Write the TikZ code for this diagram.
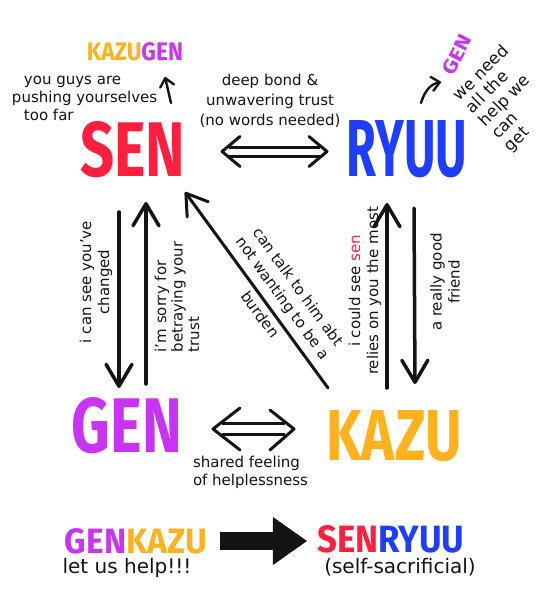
\documentclass[tikz,border=0pt]{standalone}
\usepackage{graphicx}
\usepackage{fontspec}
\setmainfont{DejaVu Sans}
\newfontfamily\namefont{Fira Sans}
\usetikzlibrary{arrows.meta}
\definecolor{cSen}{HTML}{FF1E3E}
\definecolor{cRyuu}{HTML}{1F3DFF}
\definecolor{cGen}{HTML}{C833F5}
\definecolor{cKazu}{HTML}{FFB21E}
\definecolor{ink}{HTML}{141414}
\newcommand\nm[3]{\resizebox{#1}{#2}{\namefont\bfseries #3}}
\begin{document}
\begin{tikzpicture}[x=1pt,y=-1pt,
  every node/.style={inner sep=0pt, outer sep=0pt, text=ink},
  small/.style={font=\fontsize{15}{18}\selectfont},
  arr/.style={draw=ink, line width=3.5pt, line cap=round, line join=round,
    -{Straight Barb[length=22pt,width=26pt,round]}},
  darr/.style={draw=ink, line width=3pt, line cap=round, line join=round,
    -{Straight Barb[length=20pt,width=26pt,round]}},
  tarr/.style={draw=ink, line width=2.4pt, line cap=round, line join=round,
    -{Straight Barb[length=8pt,width=14pt,round]}},
  dshaft/.style={draw=ink, line width=3pt, double=white},
  dhead/.style={draw=ink, line width=3pt, line cap=round, line join=round},
  bigarrow/.style={draw=ink, line width=18pt,
    -{Triangle[length=34pt,width=48pt,line width=0pt]}}
]
\useasboundingbox (0,0) rectangle (540,614);
\fill[white] (0,0) rectangle (540,614);

% main names
\node[text=cSen]  (sen)  at (133,150) {\nm{105pt}{55pt}{SEN}};
\node[text=cRyuu] (ryuu) at (407,149) {\nm{120pt}{56pt}{RYUU}};
\node[text=cGen]  (gen)  at (127,426) {\nm{110pt}{55pt}{GEN}};
\node[text=cKazu] (kazu) at (394,436) {\nm{135pt}{50pt}{KAZU}};

% small names
\node (kg) at (135,52) {\resizebox{96pt}{18pt}{\namefont\bfseries\textcolor{cKazu}{KAZU}\textcolor{cGen}{GEN}}};
\node[rotate=63, text=cGen] (gen2) at (457,55) {\nm{42pt}{14pt}{GEN}};
\node (gk) at (136,541) {\resizebox{142pt}{25pt}{\namefont\bfseries\textcolor{cGen}{GEN}\textcolor{cKazu}{KAZU}}};
\node (sr) at (391,539) {\resizebox{147pt}{27pt}{\namefont\bfseries\textcolor{cSen}{SEN}\textcolor{cRyuu}{RYUU}}};

% labels
\node[small, align=left, anchor=west] (t1) at (12,98) {\hspace*{12pt}you guys are\\pushing yourselves\\\hspace*{12pt}too far};
\node[font=\fontsize{15}{20}\selectfont, align=center] (t2) at (270,101) {deep bond \&\\unwavering trust\\(no words needed)};
\node[font=\fontsize{16.5}{18}\selectfont, align=left, rotate=45] (t3) at (507,99) {we need\\all the\\help we\\can\\get};
\node[small, align=center, rotate=90] (t4) at (96,282) {i can see you've\\changed};
\node[font=\fontsize{15}{16.5}\selectfont, align=left, rotate=90] (t5) at (177,297) {i'm sorry for\\betraying your\\trust};
\node[small, align=center, rotate=90] (t6) at (365,291) {i could see \textcolor{cSen}{sen}\\relies on you the most};
\node[small, align=center, rotate=90] (t7) at (445,282) {a really good\\friend};
\node[font=\fontsize{15}{19}\selectfont, align=center, rotate=-54] (t8) at (279.5,300.5) {can talk to him abt\\not wanting to be a\\[9pt]burden};
\node[small, align=left, anchor=west] (t9) at (193,472) {shared feeling\\of helplessness};
\node[font=\fontsize{20}{24}\selectfont] (t10) at (127,568) {let us help!!!};
\node[font=\fontsize{20}{24}\selectfont] (t11) at (400,567) {(self-sacrificial)};

% connector end points
\coordinate (sgA) at (119,212); \coordinate (sgB) at (119,388);
\coordinate (gsA) at (146,384); \coordinate (gsB) at (146,202);
\coordinate (krA) at (387,388); \coordinate (krB) at (387,203);
\coordinate (rkA) at (414,208); \coordinate (rkB) at (415,384);
\coordinate (ksA) at (328,388); \coordinate (ksB) at (185,192);
\coordinate (upA) at (171,103); \coordinate (upB) at (165,77);
\coordinate (cuA) at (421,103); \coordinate (cuB) at (441,82);
\coordinate (srL) at (222,151.5); \coordinate (srR) at (327,151.5);
\coordinate (gkL) at (213,429); \coordinate (gkR) at (294,429);

% single arrows
\draw[arr] (sgA) -- (sgB);
\draw[arr] (gsA) -- (gsB);
\draw[arr] (krA) -- (krB);
\draw[arr] (rkA) -- (rkB);
\draw[darr] (ksA) -- (ksB);
\draw[tarr] (upA) -- (upB);
\draw[tarr] (cuA) .. controls (425,90) and (431,84) .. (cuB);

% double arrows
\draw[dshaft, double distance=6pt] ([xshift=7pt]srL) -- ([xshift=-7pt]srR);
\draw[dhead] (srL) ++(18,-15) -- (srL) -- ++(18,15);
\draw[dhead] (srR) ++(-18,-15) -- (srR) -- ++(-18,15);
\draw[dshaft, double distance=8pt] ([xshift=9pt]gkL) -- ([xshift=-9pt]gkR);
\draw[dhead] (gkL) ++(27,-21) -- (gkL) -- ++(27,21);
\draw[dhead] (gkR) ++(-24,-19) -- (gkR) -- ++(-24,21);

% big arrow
\draw[bigarrow, shorten <=13pt, shorten >=10.5pt] (gk.east) -- (gk.east -| sr.west);
\end{tikzpicture}
\end{document}
